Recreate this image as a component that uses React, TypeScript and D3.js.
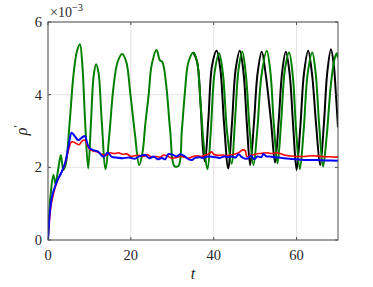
import React from "react";
import * as d3 from "d3";

const xTicks = [0, 20, 40, 60];
const yTicks = [0, 2, 4, 6];

const greenT = [0,0.6,1.3,1.8,2.4,3.1,3.7,4.3,5.2,6.2,7.0,7.7,8.3,8.9,9.7,10.4,11.0,11.6,12.2,12.9,13.9,14.8,15.8,16.8,17.9,18.9,19.9,21.0,22.0,22.8,23.5,24.3,25.0,26.2,27.0,27.6,28.5,29.5,30.5,31.5,32.3,33.0,33.9,35.1,36.0,36.8,37.7,38.5,39.3,40.2,41.3,42.2,43.2,44.3,45.2,46.0,46.9,47.8,48.7,49.6,50.5,51.5,52.8,53.7,54.5,55.4,56.3,57.2,58.2,59.1,59.9,60.8,61.7,62.7,63.8,64.6,65.5,66.4,67.3,68.3,69.2,69.7,70];
const greenV = [0,1.2,1.79,1.55,1.9,2.34,1.93,2.1,3.2,4.6,5.2,5.39,4.8,3.4,1.97,3.3,4.5,4.84,4.6,3.4,1.95,2.9,4.2,4.9,5.12,4.9,4.0,2.9,2.06,2.4,3.2,4.0,4.8,5.23,4.95,4.9,4.3,3.0,2.04,2.04,3.0,4.0,4.9,5.16,4.9,3.8,2.5,1.95,3.0,4.6,5.14,4.6,3.0,2.1,3.4,4.7,5.18,4.5,3.0,2.06,3.0,4.5,5.21,4.6,3.2,2.11,3.3,4.7,5.16,4.5,3.0,1.95,3.0,4.6,5.16,4.6,3.1,2.02,2.9,4.3,5.0,5.14,5.0];

const blackT = [35.1,36.0,36.8,37.5,37.9,38.7,39.6,40.7,41.6,42.5,43.5,44.4,45.3,46.3,47.2,48.0,48.8,49.7,50.6,51.6,52.5,53.8,54.8,55.7,56.5,57.4,58.3,59.2,60.0,60.9,61.8,62.8,63.7,64.7,65.7,66.6,67.4,68.3,69.0,69.5,70];
const blackV = [5.16,4.9,3.8,2.4,2.16,3.3,4.8,5.21,4.7,3.2,1.97,3.2,4.7,5.21,4.6,3.2,2.06,3.2,4.6,5.18,4.6,3.3,2.13,3.3,4.6,5.18,4.6,3.1,1.93,3.1,4.6,5.21,4.6,3.2,2.06,3.2,4.6,5.25,4.8,4.0,3.1];

const redT = [0,0.8,2,3,4,5,5.7,6.5,7.5,8.2,8.9,9.5,10.2,11,12,13,14,15,16,17,18,19,20,21,22,23,24,25,26,27,28,29,30,31,32,33,34,35,36,37,38,39,39.5,40,41,42,43,44,45,46,47,47.6,48,49,50,51,52,53,54,55,56,57,58,59,60,62,64,66,68,70];
const redV = [0,1.0,1.55,1.8,2.05,2.5,2.7,2.68,2.62,2.72,2.75,2.6,2.48,2.45,2.42,2.35,2.33,2.4,2.38,2.4,2.36,2.37,2.3,2.32,2.33,2.3,2.35,2.28,2.3,2.28,2.34,2.3,2.25,2.27,2.3,2.28,2.25,2.3,2.32,2.3,2.34,2.38,2.43,2.36,2.33,2.34,2.32,2.34,2.36,2.4,2.48,2.46,2.3,2.33,2.36,2.38,2.39,2.4,2.38,2.4,2.38,2.34,2.32,2.31,2.3,2.3,2.32,2.3,2.29,2.28];

const blueT = [0,0.9,2.1,3.2,4.1,5,5.7,6.5,7.3,8.2,8.9,9.5,10.1,11,12.1,13.4,14.4,15.4,16.5,18,19.5,21,22,23.4,24.5,25.5,26.5,27.5,28.3,29,30,31,32,33,34,34.7,35.5,36.5,37.5,38.5,39.5,40.5,41.5,42.5,43.5,44.5,45.3,46,46.8,47.5,48.3,49,49.8,50.5,51.5,52,52.7,53.5,55,57,59,61,63,65,67,70];
const blueV = [0,1.16,1.6,1.85,2.11,2.6,2.95,2.85,2.75,2.82,2.86,2.65,2.52,2.47,2.43,2.29,2.4,2.29,2.27,2.25,2.27,2.24,2.3,2.34,2.25,2.3,2.22,2.26,2.22,2.36,2.35,2.3,2.36,2.3,2.22,2.2,2.26,2.28,2.26,2.3,2.29,2.28,2.26,2.3,2.28,2.3,2.27,2.36,2.28,2.24,2.25,2.32,2.22,2.3,2.28,2.37,2.3,2.3,2.28,2.25,2.23,2.21,2.2,2.2,2.19,2.18];

const W = 373, H = 287;
const left = 48, right = 338, top = 22, bottom = 240;

export default function App() {
  const x = d3.scaleLinear().domain([0, 70]).range([left, right]);
  const y = d3.scaleLinear().domain([0, 6]).range([bottom, top]);
  const mk = (ts: number[], vs: number[]) =>
    d3.line<number>().x((_, i) => x(ts[i])).y((_, i) => y(vs[i])).curve(d3.curveCatmullRom.alpha(0.5))(ts) || "";
  const series = [
    { t: blackT, v: blackV, c: "#000000", w: 2 },
    { t: greenT, v: greenV, c: "#008000", w: 2 },
    { t: redT, v: redV, c: "#ff0000", w: 1.6 },
    { t: blueT, v: blueV, c: "#0000ff", w: 2 },
  ];
  const txt = { fontFamily: '"Liberation Serif", "DejaVu Serif", serif', fill: "#262626" };
  const axisColor = "#505050";
  return (
    <svg width={W} height={H} style={{ position: "absolute", left: 0, top: 0, background: "#fff" }}>
      <defs>
        <clipPath id="plotclip">
          <rect x={left} y={top} width={right - left} height={bottom - top} />
        </clipPath>
      </defs>
      <rect x={0} y={0} width={W} height={H} fill="#fff" />
      {xTicks.map((t) => (
        <line key={"gx" + t} x1={x(t)} x2={x(t)} y1={top} y2={bottom} stroke="#e3e3e3" strokeWidth={1} />
      ))}
      {yTicks.map((t) => (
        <line key={"gy" + t} x1={left} x2={right} y1={y(t)} y2={y(t)} stroke="#e3e3e3" strokeWidth={1} />
      ))}
      <g clipPath="url(#plotclip)">
        {series.map((s, i) => (
          <path key={i} d={mk(s.t, s.v)} fill="none" stroke={s.c} strokeWidth={s.w} strokeLinejoin="round" />
        ))}
      </g>
      <rect x={left} y={top} width={right - left} height={bottom - top} fill="none" stroke={axisColor} strokeWidth={1} />
      {xTicks.map((t) => (
        <g key={"tx" + t}>
          <line x1={x(t)} x2={x(t)} y1={bottom} y2={bottom - 3} stroke={axisColor} />
          <line x1={x(t)} x2={x(t)} y1={top} y2={top + 3} stroke={axisColor} />
          <text x={x(t)} y={260} textAnchor="middle" style={{ ...txt, fontSize: "14.5px" }}>{t}</text>
        </g>
      ))}
      {yTicks.map((t) => (
        <g key={"ty" + t}>
          <line x1={left} x2={left + 3} y1={y(t)} y2={y(t)} stroke={axisColor} />
          <line x1={right} x2={right - 3} y1={y(t)} y2={y(t)} stroke={axisColor} />
          <text x={42} y={y(t) + 5} textAnchor="end" style={{ ...txt, fontSize: "14.5px" }}>{t}</text>
        </g>
      ))}
      <text x={50} y={17} style={{ ...txt, fontSize: "14px" }}>
        ×10<tspan dy={-6} style={{ fontSize: "10.5px" }}>−3</tspan>
      </text>
      <text x={193} y={279} textAnchor="middle" style={{ ...txt, fontSize: "16px", fontStyle: "italic" }}>t</text>
      <text transform="translate(27,130) rotate(-90)" textAnchor="middle" style={{ ...txt, fontSize: "16px", fontStyle: "italic" }}>
        ρ<tspan dy={-5} style={{ fontStyle: "normal", fontSize: "12px" }}>′</tspan>
      </text>
    </svg>
  );
}
